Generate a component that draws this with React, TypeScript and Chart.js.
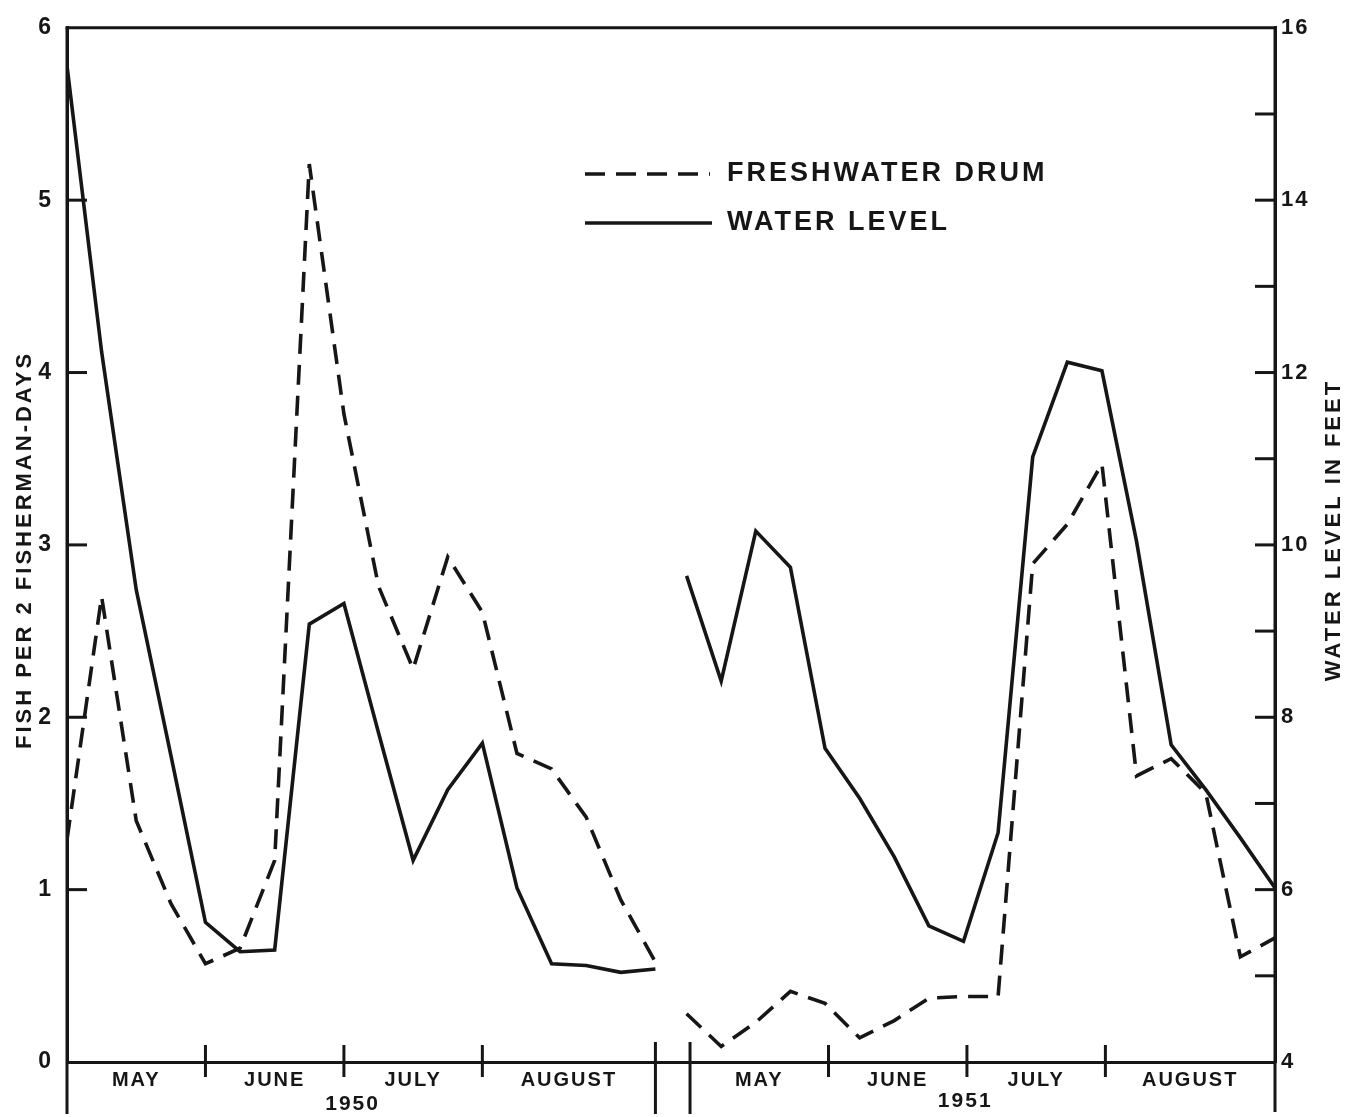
import { useEffect, useRef } from 'react';
import { Chart, registerables } from 'chart.js';

Chart.register(...registerables);

// Week index within each season (weekly observations, May through August)
const weeks = [0, 1, 2, 3, 4, 5, 6, 7, 8, 9, 10, 11, 12, 13, 14, 15, 16, 17];
const start1950 = 0;
const start1951 = 17.9;

// Freshwater drum, fish per 2 fisherman-days
const drum1950 = [1.29, 2.7, 1.4, 0.92, 0.57, 0.66, 1.17, 5.21, 3.76, 2.76, 2.28, 2.93, 2.61, 1.79, 1.7, 1.42, 0.94, 0.58];
const drum1951 = [0.28, 0.09, 0.23, 0.41, 0.34, 0.14, 0.24, 0.37, 0.38, 0.38, 2.89, 3.12, 3.47, 1.66, 1.76, 1.56, 0.61, 0.72];

// Water level in feet
const level1950 = [15.56, 12.24, 9.48, 7.56, 5.62, 5.28, 5.3, 9.08, 9.32, 7.82, 6.34, 7.16, 7.7, 6.02, 5.14, 5.12, 5.04, 5.08];
const level1951 = [9.64, 8.42, 10.16, 9.74, 7.64, 7.06, 6.38, 5.58, 5.4, 6.66, 11.02, 12.12, 12.02, 10.04, 7.68, 7.16, 6.6, 6.02];

// Axis structure
const monthNames = ['MAY', 'JUNE', 'JULY', 'AUGUST'];
const yearNames = ['1950', '1951'];
const bounds1950 = [0, 4, 8, 12, 17];
const bounds1951 = [18, 22, 26, 30, 34.9];
const fishTicks = [0, 1, 2, 3, 4, 5, 6];
const levelTicks = [4, 5, 6, 7, 8, 9, 10, 11, 12, 13, 14, 15, 16];

const INK = '#161616';
const FONT = '"Liberation Sans", Arial, sans-serif';

const monthCenters: number[] = [];
const monthLabels: string[] = [];
[bounds1950, bounds1951].forEach((b) => {
  for (let i = 0; i < b.length - 1; i++) {
    monthCenters.push((b[i] + b[i + 1]) / 2);
    monthLabels.push(monthNames[i]);
  }
});

const decor = {
  id: 'decor',
  beforeDraw(chart: any) {
    chart.ctx.letterSpacing = '2px';
  },
  afterDraw(chart: any) {
    const { ctx, chartArea: a, scales } = chart;
    const sx = scales.x;
    const yl = scales.yFish;
    const yr = scales.yLevel;
    const line = (x1: number, y1: number, x2: number, y2: number) => {
      ctx.beginPath();
      ctx.moveTo(x1, y1);
      ctx.lineTo(x2, y2);
      ctx.stroke();
    };
    ctx.save();
    ctx.strokeStyle = INK;
    ctx.fillStyle = INK;
    ctx.lineWidth = 3;
    ctx.lineCap = 'butt';
    // frame
    line(a.left - 1.5, a.top, a.right + 1.5, a.top);
    line(a.left, a.top, a.left, 1114);
    line(a.right, a.top, a.right, 1112);
    // inward y ticks
    fishTicks.slice(1, -1).forEach((v) => {
      const py = yl.getPixelForValue(v);
      line(a.left, py, a.left + 20, py);
    });
    levelTicks.slice(1, -1).forEach((v) => {
      const py = yr.getPixelForValue(v);
      line(a.right - 20, py, a.right, py);
    });
    // month dividers
    [bounds1950, bounds1951].forEach((b) => {
      b.slice(1, -1).forEach((v) => {
        const px = sx.getPixelForValue(v);
        line(px, a.bottom - 17, px, a.bottom + 15);
      });
    });
    [bounds1950[bounds1950.length - 1], bounds1951[0]].forEach((v) => {
      const px = sx.getPixelForValue(v);
      line(px, a.bottom - 20, px, 1114);
    });
    // year labels
    ctx.font = `bold 21px ${FONT}`;
    ctx.letterSpacing = '2px';
    ctx.textAlign = 'center';
    ctx.textBaseline = 'middle';
    ctx.fillText(yearNames[0], sx.getPixelForValue(8.25), 1104);
    ctx.fillText(yearNames[1], sx.getPixelForValue(25.95), 1101);
    // axis titles
    ctx.font = `bold 22px ${FONT}`;
    ctx.letterSpacing = '3px';
    ctx.save();
    ctx.translate(25, 550);
    ctx.rotate(-Math.PI / 2);
    ctx.fillText('FISH PER 2 FISHERMAN-DAYS', 0, 0);
    ctx.restore();
    ctx.save();
    ctx.translate(1334, 530);
    ctx.rotate(-Math.PI / 2);
    ctx.fillText('WATER LEVEL IN FEET', 0, 0);
    ctx.restore();
    // legend
    ctx.lineWidth = 3.5;
    ctx.setLineDash([20, 11]);
    line(585, 174, 710, 174);
    ctx.setLineDash([]);
    line(585, 223, 712, 223);
    ctx.font = `bold 27px ${FONT}`;
    ctx.letterSpacing = '3px';
    ctx.textAlign = 'left';
    ctx.fillText(chart.data.datasets[0].label, 727, 174);
    ctx.fillText(chart.data.datasets[2].label, 727, 223);
    ctx.restore();
  },
};

export default function App() {
  const ref = useRef<HTMLCanvasElement>(null);
  useEffect(() => {
    if (!ref.current) return;
    const pts = (start: number, vals: number[]) => weeks.map((w, i) => ({ x: start + w, y: vals[i] }));
    const common = { borderColor: INK, borderWidth: 3.6, pointRadius: 0, tension: 0, fill: false, borderJoinStyle: 'miter' as const };
    const chart = new Chart(ref.current, {
      type: 'line',
      data: {
        datasets: [
          { label: 'FRESHWATER DRUM', data: pts(start1950, drum1950), yAxisID: 'yFish', borderDash: [20, 11], ...common },
          { label: 'FRESHWATER DRUM 1951', data: pts(start1951, drum1951), yAxisID: 'yFish', borderDash: [20, 11], ...common },
          { label: 'WATER LEVEL', data: pts(start1950, level1950), yAxisID: 'yLevel', ...common },
          { label: 'WATER LEVEL 1951', data: pts(start1951, level1951), yAxisID: 'yLevel', ...common },
        ],
      },
      options: {
        responsive: false,
        animation: false,
        devicePixelRatio: 1,
        layout: { padding: { top: 24, left: 0, right: 0, bottom: 0 } },
        plugins: { legend: { display: false }, tooltip: { enabled: false } },
        scales: {
          x: {
            type: 'linear',
            min: bounds1950[0],
            max: bounds1951[bounds1951.length - 1],
            afterBuildTicks: (s: any) => {
              s.ticks = monthCenters.map((v) => ({ value: v }));
            },
            afterFit: (s: any) => {
              s.height = 55;
            },
            ticks: {
              autoSkip: false,
              maxRotation: 0,
              padding: 6,
              color: INK,
              font: { family: FONT, size: 20, weight: 'bold' },
              callback: (_v: any, i: number) => monthLabels[i],
            },
            grid: { display: false, drawTicks: false },
            border: { display: true, color: INK, width: 3 },
          },
          yFish: {
            type: 'linear',
            position: 'left',
            min: fishTicks[0],
            max: fishTicks[fishTicks.length - 1],
            afterFit: (s: any) => {
              s.width = 67;
            },
            ticks: { stepSize: 1, padding: 14, color: INK, font: { family: FONT, size: 23, weight: 'bold' } },
            grid: { display: false, drawTicks: false },
            border: { display: true, color: INK, width: 3 },
          },
          yLevel: {
            type: 'linear',
            position: 'right',
            min: levelTicks[0],
            max: levelTicks[levelTicks.length - 1],
            afterFit: (s: any) => {
              s.width = 80;
            },
            ticks: {
              stepSize: 1,
              padding: 6,
              color: INK,
              font: { family: FONT, size: 22, weight: 'bold' },
              callback: (v: any) => (Number(v) % 2 === 0 ? String(v) : ''),
            },
            grid: { display: false, drawTicks: false },
            border: { display: true, color: INK, width: 3 },
          },
        },
      },
      plugins: [decor],
    });
    return () => chart.destroy();
  }, []);
  return (
    <div style={{ position: 'absolute', left: 0, top: 0, width: 1355, height: 1117, background: '#fff' }}>
      <canvas ref={ref} width={1355} height={1117} style={{ display: 'block' }} />
    </div>
  );
}
